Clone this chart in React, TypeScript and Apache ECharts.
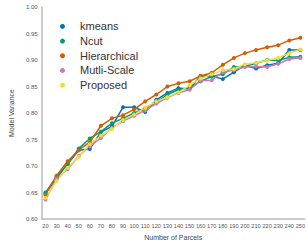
import React, { useEffect, useRef } from "react";
import * as echarts from "echarts";

const parcels = [20, 30, 40, 50, 60, 70, 80, 90, 100, 110, 120, 130, 140, 150, 160, 170, 180, 190, 200, 210, 220, 230, 240, 250];
const kmeans = [0.648, 0.678, 0.704, 0.730, 0.732, 0.764, 0.775, 0.811, 0.811, 0.802, 0.825, 0.838, 0.847, 0.846, 0.870, 0.870, 0.864, 0.877, 0.890, 0.884, 0.890, 0.894, 0.919, 0.919];
const ncut = [0.650, 0.680, 0.704, 0.733, 0.752, 0.765, 0.781, 0.790, 0.800, 0.809, 0.820, 0.835, 0.844, 0.847, 0.860, 0.869, 0.873, 0.887, 0.888, 0.894, 0.900, 0.899, 0.905, 0.906];
const hierarchical = [0.646, 0.682, 0.709, 0.730, 0.745, 0.776, 0.790, 0.796, 0.807, 0.822, 0.835, 0.850, 0.856, 0.860, 0.870, 0.876, 0.891, 0.904, 0.913, 0.919, 0.924, 0.928, 0.937, 0.942];
const multiScale = [0.637, 0.676, 0.694, 0.719, 0.737, 0.753, 0.772, 0.785, 0.795, 0.805, 0.818, 0.829, 0.838, 0.844, 0.861, 0.862, 0.877, 0.881, 0.887, 0.888, 0.887, 0.893, 0.902, 0.904];
const proposed = [0.640, 0.672, 0.697, 0.717, 0.741, 0.757, 0.770, 0.787, 0.797, 0.810, 0.822, 0.830, 0.839, 0.852, 0.865, 0.873, 0.881, 0.883, 0.892, 0.895, 0.899, 0.904, 0.913, 0.920];

const seriesNames = ["kmeans", "Ncut", "Hierarchical", "Mutli-Scale", "Proposed"];
const seriesValues = [kmeans, ncut, hierarchical, multiScale, proposed];
const colors = ["#0173b2", "#029e73", "#d55e00", "#cc78bc", "#ece133"];

export default function App() {
  const ref = useRef<HTMLDivElement>(null);
  useEffect(() => {
    if (!ref.current) return;
    const chart = echarts.init(ref.current, null, { renderer: "svg" });
    const font = "'Liberation Sans', Arial, sans-serif";
    chart.setOption({
      animation: false,
      color: colors,
      textStyle: { fontFamily: font },
      grid: { left: 39, right: 0, top: 7, bottom: 21 },
      legend: {
        data: seriesNames,
        orient: "vertical",
        left: 55,
        top: 15,
        icon: "circle",
        itemWidth: 5,
        itemHeight: 5,
        itemGap: 2,
        textStyle: { fontSize: 11, color: "#333", fontFamily: font, padding: [0, 0, 0, 10], lineHeight: 12.7 },
      },
      xAxis: {
        type: "value",
        min: 16.5,
        max: 254,
        name: "Number of Parcels",
        nameLocation: "middle",
        nameGap: 14,
        nameTextStyle: { fontSize: 7, color: "#444" },
        axisLine: { show: true, lineStyle: { color: "#bbb", width: 1.5 } },
        axisTick: { show: false },
        splitLine: { show: false },
        axisLabel: {
          customValues: parcels,
          fontSize: 5.6,
          color: "#555",
          margin: 4,
        },
      },
      yAxis: {
        type: "value",
        min: 0.6,
        max: 1.0,
        interval: 0.05,
        name: "Model Variance",
        nameLocation: "middle",
        nameGap: 23,
        nameTextStyle: { fontSize: 7, color: "#444" },
        axisLine: { show: true, lineStyle: { color: "#bbb", width: 1.5 } },
        axisTick: { show: false },
        splitLine: { show: false },
        axisLabel: {
          fontSize: 6,
          color: "#555",
          margin: 4,
          formatter: (v: number) => v.toFixed(2),
        },
      },
      series: seriesNames.map((name, i) => ({
        name,
        type: "line",
        data: parcels.map((p, j) => [p, seriesValues[i][j]]),
        symbol: "circle",
        symbolSize: 4,
        lineStyle: { width: 1.5 },
      })),
    });
    return () => chart.dispose();
  }, []);
  return <div ref={ref} style={{ position: "absolute", left: 0, top: 0, width: 308, height: 246 }} />;
}
